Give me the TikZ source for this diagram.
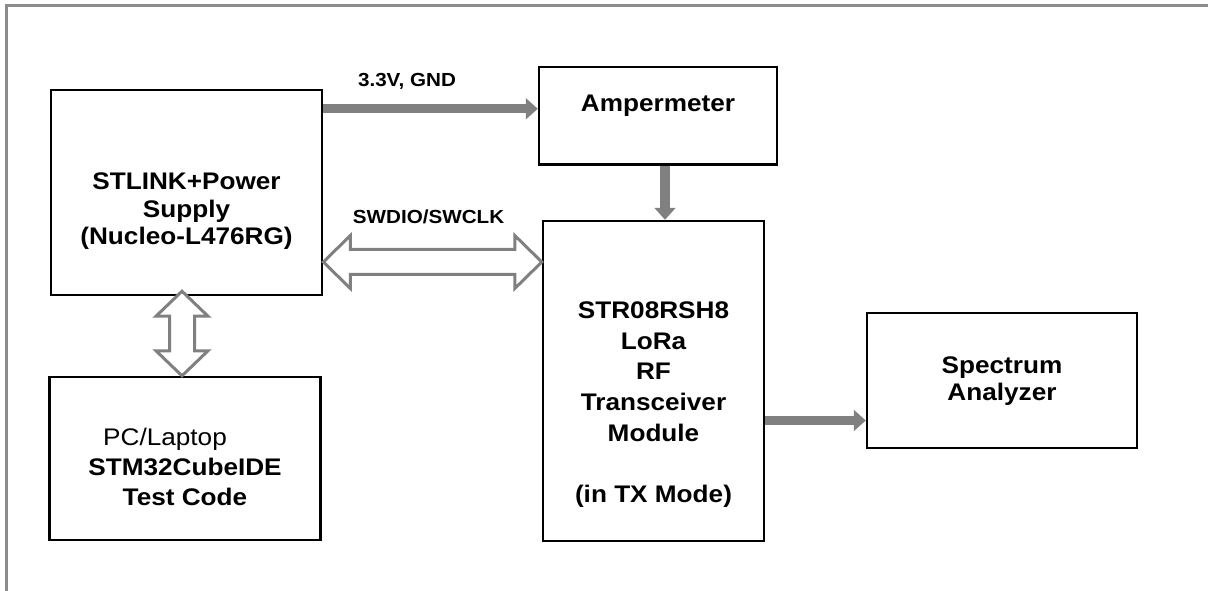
\documentclass[tikz,border=0pt]{standalone}
\usepackage{fontspec}
\setmainfont{Liberation Sans}[FakeStretch=1.09]
\usepackage{xcolor}
\definecolor{arrowgray}{RGB}{128,128,128}
\definecolor{framegray}{RGB}{140,140,140}
\usetikzlibrary{arrows.meta}
\usetikzlibrary{calc}
\newcommand{\widthside}{203.5pt}
\newcommand{\widthmodule}{165.75pt}
\tikzset{
    common/.style={draw, rectangle, line width=1.8pt, inner sep=0pt},
    block/.style={common, minimum width=\widthside},
    txt/.style={align=center, font=\fontsize{18}{#1}\selectfont\bfseries},
    txt/.default=21pt,
    lbl/.style={font=\fontsize{14.2}{16}\selectfont\bfseries},
    feed/.style={draw=arrowgray, line width=7pt, -{Triangle[length=9pt, width=15.5pt]}},
    hollow/.style={draw=arrowgray, line width=2.25pt, fill=white, line join=miter},
    frame/.style={framegray, line width=2.25pt}
}

\begin{document}
\begin{tikzpicture}[x=0.75pt, y=-0.75pt]
    \useasboundingbox (0,0) rectangle (1208,591);
    \draw[frame] (6.5,591) -- (6.5,5.5) -- (1208,5.5);

    \path
        (186.5,192.5) node[block, minimum height=153.75pt] (stlink) {}
        ++(-1.5,266) node[block, minimum height=122.25pt] (pc) {}
        (658,115.75) node[common, minimum width=178.5pt, minimum height=73.1pt] (amp) {}
        ++(-4.5,265.25) node[common, minimum width=\widthmodule, minimum height=240pt] (str) {}
        ++(348.5,-0.2) node[block, minimum width=202.5pt, minimum height=101.25pt] (spec) {};

    % texts of the blocks
    \node[txt=20.6pt] (stlinktext) at ($(stlink)+(0,19)$) {STLINK+Power\\Supply\\(Nucleo-L476RG)};
    \node[txt=22.5pt] (pctext) at ($(pc)+(0,8)$) {{\mdseries PC/Laptop}\kern30pt\\STM32CubeIDE\\Test Code};
    \node[txt] (amptext) at ($(amp)+(0,-10)$) {Ampermeter};
    \node[txt=23pt] (strtext) at ($(str)+(0,23.5)$) {STR08RSH8\\LoRa\\RF\\Transceiver\\Module\\ \\(in TX Mode)};
    \node[txt=20pt] (spectext) at (spec) {Spectrum\\Analyzer};

    % power and rf
    \coordinate (pwr) at ($(stlink.north east)+(0,20)$);
    \draw[feed] (pwr) -- (pwr -| amp.west) node[lbl, pos=0.39, anchor=base, yshift=16.5pt] (pwrlabel) {3.3V, GND};
    \coordinate (amptap) at ($(amp.south)+(7,0)$);
    \draw[feed] (amptap) -- (amptap |- str.north);
    \coordinate (rfout) at ($(str.east)+(0,39.5)$);
    \draw[feed] (rfout) -- (rfout -| spec.west);

    % swd link
    \coordinate (swL) at ($(stlink.east)+(0,69.5)$);
    \coordinate (swR) at (swL -| str.west);
    \draw[hollow] (swL) -- ++(27,-26.5) -- ++(0,14) -- ($(swR)+(-27,-12.5)$) -- ++(0,-14) -- (swR)
        -- ++(-27,26.5) -- ++(0,-14) -- ($(swL)+(27,12.5)$) -- ++(0,14) -- cycle;
    \node[lbl, anchor=base] (swlabel) at ($(swL)!0.5!(swR)+(-4,-38)$) {SWDIO/SWCLK};

    % usb link
    \coordinate (usbT) at ($(stlink.south)+(-4.5,-5)$);
    \coordinate (usbB) at (usbT |- pc.north);
    \draw[hollow] (usbT) -- ++(26,25) -- ++(-13.5,0) -- ($(usbB)+(12.5,-25)$) -- ++(13.5,0) -- (usbB)
        -- ++(-26,-25) -- ++(13.5,0) -- ($(usbT)+(-12.5,25)$) -- ++(-13.5,0) -- cycle;
\end{tikzpicture}
\end{document}
